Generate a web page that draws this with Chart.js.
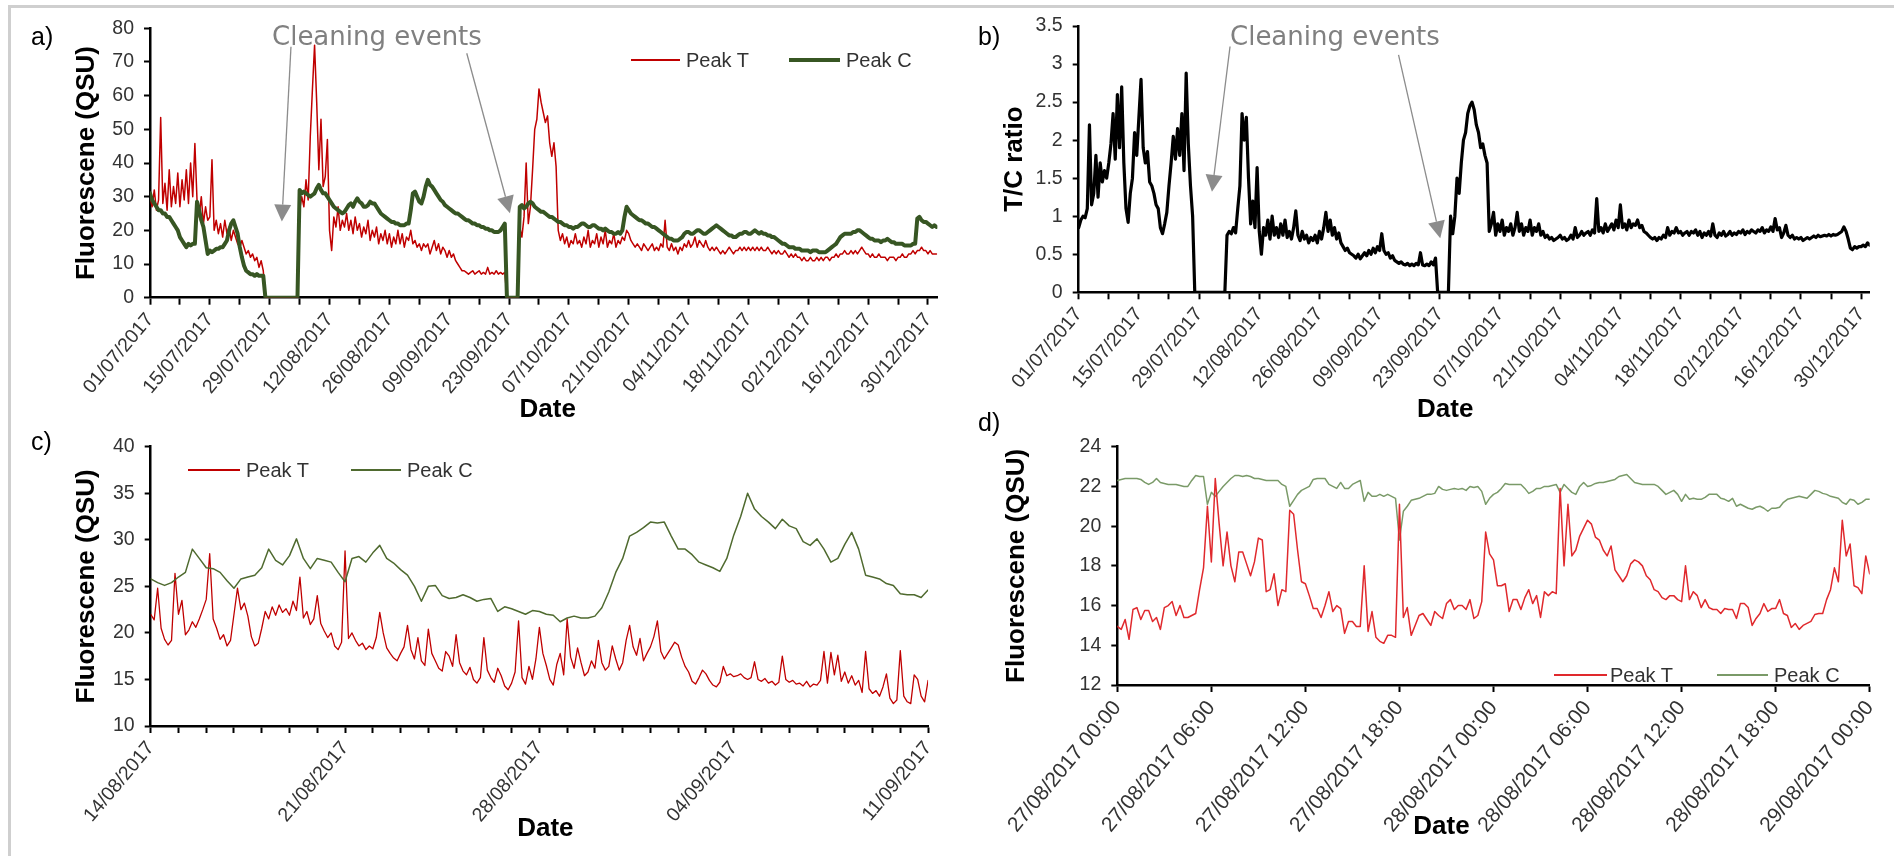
<!DOCTYPE html>
<html>
<head>
<meta charset="utf-8">
<script src="https://cdn.jsdelivr.net/npm/chart.js@4.4.1/dist/chart.umd.min.js"></script>
<style>
html,body{margin:0;padding:0;background:#fff;}
body{width:1894px;height:856px;position:relative;overflow:hidden;font-family:"Liberation Sans",Arial,sans-serif;}
.frame{position:absolute;left:8px;top:5px;width:2000px;height:1000px;border-top:3px solid #cfcfcf;border-left:3px solid #cfcfcf;}
canvas{position:absolute;display:block;}
.lbl{position:absolute;font-size:25px;line-height:26px;color:#000;white-space:nowrap;}
.note{position:absolute;font-family:"DejaVu Sans",sans-serif;font-size:26px;line-height:26px;color:#808080;white-space:nowrap;}
.leg{position:absolute;font-size:20px;line-height:20px;color:#333;white-space:nowrap;}
.sw{position:absolute;}
</style>
</head>
<body>
<div class="frame"></div>
<canvas id="ca" width="950" height="425" style="left:0;top:0"></canvas>
<canvas id="cb" width="944" height="425" style="left:950px;top:0"></canvas>
<canvas id="cc" width="950" height="431" style="left:0;top:425px"></canvas>
<canvas id="cd" width="944" height="431" style="left:950px;top:425px"></canvas>

<div class="lbl" style="left:31px;top:23px">a)</div>
<div class="lbl" style="left:978px;top:23px">b)</div>
<div class="lbl" style="left:31px;top:428px">c)</div>
<div class="lbl" style="left:978px;top:409px">d)</div>

<div class="note" style="left:272px;top:23px">Cleaning events</div>
<div class="note" style="left:1230px;top:23px">Cleaning events</div>

<!-- legends -->
<div class="sw" style="left:631px;top:59px;width:49px;height:1.6px;background:#c00000"></div>
<div class="leg" style="left:686px;top:50px">Peak T</div>
<div class="sw" style="left:789px;top:58px;width:51px;height:4px;background:#375623"></div>
<div class="leg" style="left:846px;top:50px">Peak C</div>

<div class="sw" style="left:188px;top:469px;width:52px;height:1.6px;background:#c00000"></div>
<div class="leg" style="left:246px;top:460px">Peak T</div>
<div class="sw" style="left:351px;top:469px;width:50px;height:1.6px;background:#4f6a2f"></div>
<div class="leg" style="left:407px;top:460px">Peak C</div>

<div class="sw" style="left:1554px;top:674px;width:53px;height:1.6px;background:#e0292d"></div>
<div class="leg" style="left:1610px;top:665px">Peak T</div>
<div class="sw" style="left:1717px;top:674px;width:51px;height:1.6px;background:#7a9a68"></div>
<div class="leg" style="left:1774px;top:665px">Peak C</div>

<script>
// ---------------- DATA ----------------
// Panels a & b: days since 01/07/2017, sampled every half day (0 .. 184)
const A_STEP = 0.5;
const halfYearTicks = ['01/07/2017','15/07/2017','29/07/2017','12/08/2017','26/08/2017','09/09/2017','23/09/2017',
  '07/10/2017','21/10/2017','04/11/2017','18/11/2017','02/12/2017','16/12/2017','30/12/2017'];

const peakT_a = [
 30,27,32,26,29,53.5,28,34,26,38,27,33,28,37,27,35,29,38,28,40,
 30,45.8,29,24,30,22,27,23,24,41,20,23,19,22,18,23,19,21,17,20,
 18,16,15,17,15,13,14,12,13,11,12,9,11,8,0,0,0,0,0,0,
 0,0,0,0,0,0,0,0,0,0,26,30,27,35,29,48,62,75,58,38,
 53,33,36,47,20,14,24,21,27,20,23,21,25,20,23,19,24,20,22,18,
 21,19,23,17,20,18,21,16,19,17,20,16,19,15,18,16,20,16,19,15,
 18,17,20,16,17,15,16,14,16,15,16,13,15,17,14,16,13,15,14,12,
 14,12,13,11,10,9,8,8,7.5,7,7.5,8,7,7.5,8,7,7.5,7,9,7,
 7.5,7,8,7,7.5,7,7.5,0,0,0,0,0,0,21,18,24,40,22,27,38,
 50,53,62,58,55,52,54,46,42,46,39,20,17,19,16,18,15,17,16,19,
 16,17,15,18,16,20,15,17,16,19,15,18,16,20,15,17,16,19,15,17,
 16,18,17,20,19,17,16,15,16,15,14,16,15,14,15,16,14,15,14,16,
 15,23,15,14,16,14,15,13,15,14,16,15,17,15,16,18,15,17,16,15,
 17,15,14,15,14,15,14,13,14,13,14,15,14,13,14,14,15,14,15,14,
 15,14,15,14,15,14,15,14,14,15,14,13,14,13,14,13,13,14,13,12,
 13,12,13,12,12,11,12,11,11,12,11,11,12,11,12,11,12,12,11,12,
 12,13,12,13,13,14,13,13,14,13,14,13,14,15,14,13,13,12,13,12,
 12,13,12,12,12,11,12,12,12,11,12,12,13,12,12,13,13,14,13,14,
 14,15,14,14,13,14,13,13,13
];
const peakC_a = [
 31,29,28,27,26,26,25,25,24,24,23,22,21,20,18,17,16,15,16,15.5,
 16,16,28.5,26,23,21,17,13,14,13.5,14,14.5,14.5,15,15,16,17,20,22,23,
 21,19,15,12,9.5,8,7.5,7,7,6.5,7,6.5,6.5,6.5,0,0,0,0,0,0,
 0,0,0,0,0,0,0,0,0,0,32,31,31.5,31,30.5,30,30.5,31,32.5,33.5,
 32,31,31,30,29,28,27,26.5,26,25.5,25,25.5,26.5,27.5,28,27,28.5,29.5,28.5,28,
 27,27,27.5,28.5,28,28,27,26,25,24.5,24,23.5,23,22.5,22.5,22,22,21.5,21.5,21.5,
 22,22,26,31,31.5,30,28.5,28,30,33,35,33.5,33,32,31,30,29,28.5,27.5,27,
 26.5,26,25.5,25,25,24.5,24,23.5,23,23,22.5,22,22,21.5,21.5,21,21,20.5,20.5,20,
 20,19.5,19.5,19.5,20,21,22,0,0,0,0,0,0,27,27.5,26.5,27,28,28.5,28,
 27,26.5,26,25.5,25.5,25,24.5,24,24,23.5,23,22.5,22.5,22,21.5,21.5,21,21,20.5,21,
 21,21.5,22,22,21.5,21,21,21.5,21.5,21,20.5,20.5,20,20.5,20,19.5,19.5,19,19,19.5,
 19,20,24,27,26,25,24.5,24,23.5,23,23,22.5,22,22,21.5,21,21,20.5,20,19.5,
 19,18.5,18,17.5,17.5,17,17,17,17.5,18,19,19.5,19.5,19,19,19.5,20,20,19.5,19,
 19,19.5,20,20.5,21,21.5,21,20.5,20,19.5,19,18.5,18.5,18,18,18.5,19,19,19.5,19.5,
 19,19,19.5,20,19.5,19,19.5,19,19,18.5,18.5,18,18,17.5,17,16.5,16,16,15.5,15,
 15,15,14.5,14.5,14.5,14,14,14,14,13.5,14,14,14,13.5,13.5,13.5,13.5,14,14.5,15,
 15.5,16,17,18,18.5,19,19,19,19,19.5,19.5,20,20,19.5,19,18.5,18,17.5,17.5,17,
 17,17,16.5,17,17,17.5,17,16.5,16.5,16,16,16,16,15.5,15.5,15.5,15.5,16,16,23.5,
 24,23,22.5,22.5,22,21.5,21,21.5,21
];
const ratioTC_b = [
 0.85,0.95,1.0,0.98,1.1,2.2,1.15,1.3,1.8,1.25,1.7,1.45,1.6,1.5,1.7,1.95,2.35,1.75,2.6,1.9,
 2.7,1.7,1.1,0.92,1.3,1.5,2.1,1.8,2.3,2.8,1.9,1.7,1.85,1.45,1.4,1.3,1.15,1.1,0.85,0.77,
 0.9,1.05,1.4,1.7,2.05,1.75,2.15,1.8,2.35,1.6,2.88,1.95,1.4,1.0,0,0,0,0,0,0,
 0,0,0,0,0,0,0,0,0,0.75,0.8,0.77,0.85,0.78,1.1,1.4,2.35,2.0,2.3,1.5,
 0.9,1.2,0.85,1.64,0.8,0.5,0.85,0.75,0.95,0.7,1.0,0.75,0.85,0.72,0.9,0.75,0.95,0.72,0.8,0.7,
 0.85,1.07,0.75,0.68,0.8,0.7,0.75,0.65,0.72,0.68,0.75,0.65,0.8,0.7,0.85,1.05,0.8,0.95,0.75,0.85,
 0.7,0.78,0.65,0.6,0.55,0.58,0.52,0.5,0.48,0.45,0.5,0.44,0.48,0.52,0.48,0.55,0.5,0.58,0.52,0.6,
 0.55,0.77,0.55,0.5,0.52,0.45,0.48,0.42,0.4,0.38,0.4,0.37,0.36,0.38,0.35,0.37,0.35,0.38,0.36,0.52,
 0.36,0.35,0.37,0.35,0.4,0.36,0.45,0,0,0,0,0,0,1.0,0.77,1.0,1.5,1.3,1.7,2.0,
 2.1,2.35,2.45,2.5,2.4,2.2,2.1,1.9,1.95,1.8,1.7,0.8,0.9,1.05,0.75,0.9,0.8,0.95,0.75,0.85,
 0.8,0.9,0.75,0.85,1.05,0.8,0.9,0.75,0.85,0.8,0.95,0.75,0.85,0.8,0.9,0.75,0.8,0.72,0.75,0.7,
 0.72,0.68,0.7,0.72,0.75,0.7,0.72,0.68,0.7,0.75,0.7,0.85,0.72,0.75,0.8,0.75,0.78,0.8,0.75,0.82,
 0.78,1.23,0.8,0.85,0.78,0.9,0.8,0.85,0.9,0.82,0.95,0.85,1.15,0.85,0.9,0.82,0.95,0.85,0.9,0.88,
 0.95,0.85,0.88,0.8,0.78,0.75,0.72,0.7,0.72,0.68,0.72,0.7,0.75,0.72,0.85,0.75,0.8,0.78,0.85,0.78,
 0.8,0.75,0.78,0.8,0.75,0.8,0.78,0.82,0.75,0.8,0.72,0.78,0.75,0.8,0.74,0.9,0.75,0.72,0.78,0.75,
 0.8,0.74,0.76,0.8,0.75,0.78,0.76,0.8,0.78,0.82,0.76,0.8,0.78,0.82,0.8,0.78,0.82,0.8,0.85,0.78,
 0.82,0.8,0.86,0.8,0.97,0.82,0.85,0.72,0.78,0.88,0.75,0.72,0.75,0.7,0.72,0.7,0.72,0.68,0.7,0.72,
 0.7,0.72,0.74,0.72,0.75,0.73,0.74,0.75,0.74,0.76,0.74,0.76,0.75,0.76,0.78,0.8,0.86,0.8,0.7,0.58,
 0.56,0.6,0.58,0.6,0.6,0.62,0.6,0.65,0.62
];

// Panel c: days since 14/08/2017 (0 .. 28); Peak T every 3 h, Peak C every 6 h
const CT_STEP = 0.125;
const CC_STEP = 0.25;
const monthTicks = ['14/08/2017','21/08/2017','28/08/2017','04/09/2017','11/09/2017'];
const peakT_c = [
 22.0,21.4,24.8,20.5,19.3,18.7,19.2,26.4,
 22.0,23.5,19.8,20.3,21.2,20.6,21.5,22.5,
 23.6,28.5,21.5,20.5,19.3,19.8,18.6,19.2,
 22.0,24.8,22.5,23.2,21.8,19.6,18.6,18.9,
 20.5,22.3,21.5,22.8,21.9,23.0,22.2,22.6,
 21.9,23.4,22.4,26.0,21.6,22.3,20.9,21.5,
 24.0,21.0,20.2,19.5,20.0,18.6,18.2,19.0,
 28.8,19.4,20.0,19.2,18.6,18.9,18.2,18.6,
 18.3,19.5,22.2,20.0,18.4,17.8,17.3,17.0,
 17.8,18.5,20.8,18.2,17.2,19.5,17.0,16.5,
 20.4,17.8,17.0,16.2,15.9,18.0,17.5,16.4,
 19.8,16.8,15.9,15.5,16.3,15.0,14.6,15.2,
 19.5,16.0,15.2,14.7,16.2,15.4,14.3,13.9,
 14.6,15.8,21.3,15.2,14.5,16.4,15.0,17.2,
 20.6,17.8,16.5,15.0,14.4,16.6,17.8,15.5,
 21.5,17.4,16.2,18.4,16.8,15.4,15.8,17.0,
 16.2,19.2,16.8,16.0,16.4,18.6,17.2,16.0,
 16.8,19.2,20.8,18.5,17.6,19.4,17.0,17.8,
 18.5,19.6,21.3,18.0,17.2,17.8,18.4,19.0,
 18.7,17.4,16.4,15.8,14.8,14.5,15.2,16.0,
 15.6,14.9,14.4,14.2,14.7,16.4,15.4,15.6,
 15.3,15.4,15.6,15.2,15.0,15.2,16.9,15.0,
 14.8,15.1,14.6,14.8,14.4,14.7,17.5,15.0,
 14.7,14.9,14.5,14.6,14.3,14.8,14.2,14.5,
 14.4,14.9,18.0,14.6,17.9,15.5,17.6,14.8,
 15.8,14.6,15.4,14.4,14.9,13.6,18.0,14.0,
 13.5,13.8,13.2,14.2,15.6,13.0,12.4,12.8,
 18.1,13.2,12.6,12.4,15.5,15.0,13.2,12.6,
 14.9
];
const peakC_c = [
 25.8,25.4,25.1,25.4,26.0,26.5,29.0,28.0,27.0,26.9,26.5,25.6,24.8,25.8,26.0,26.2,27.0,29.0,27.8,27.3,28.3,30.1,28.0,26.9,28.0,27.8,27.6,26.5,
 25.5,28.0,28.2,27.6,28.6,29.4,28.0,27.5,26.8,26.2,25.0,23.4,25.0,25.1,24.0,23.7,23.8,24.1,23.8,23.4,23.6,23.7,22.3,22.8,22.6,22.3,22.0,22.4,
 22.3,22.0,21.9,21.2,21.6,21.8,21.6,21.6,21.8,22.7,24.4,26.5,28.0,30.4,30.8,31.3,31.9,31.8,31.9,30.4,29.0,29.0,28.4,27.6,27.3,27.0,26.6,28.0,
 30.5,32.5,35.0,33.3,32.5,31.9,31.2,32.2,31.5,31.2,29.8,29.4,30.1,29.0,27.6,28.0,29.5,30.8,29.0,26.2,26.0,25.8,25.3,25.1,24.2,24.1,24.1,23.8,
 24.6
];

// Panel d: hours since 27/08/2017 00:00, every 15 minutes (0 .. 48)
const D_STEP = 0.25;
const dayTicks = ['27/08/2017 00:00','27/08/2017 06:00','27/08/2017 12:00','27/08/2017 18:00',
  '28/08/2017 00:00','28/08/2017 06:00','28/08/2017 12:00','28/08/2017 18:00','29/08/2017 00:00'];
const peakT_d = [
 14.95,14.8,15.3,14.3,15.8,15.9,15.3,15.75,15.75,15.2,15.4,14.8,
 15.9,16.0,16.2,15.5,16.0,15.4,15.4,15.5,15.6,16.8,17.9,21.0,
 18.2,22.4,20.1,18.0,19.7,18.0,17.2,18.7,18.7,18.1,17.5,18.2,
 19.4,19.3,16.7,16.8,17.6,16.0,16.8,16.7,20.8,20.6,18.8,17.2,
 17.1,16.5,15.85,15.85,15.4,16.0,16.7,15.7,16.0,15.85,14.6,15.2,
 15.2,14.95,14.95,18.0,14.7,15.7,14.4,14.2,14.1,14.5,14.5,14.4,
 21.1,15.4,15.9,14.5,15.0,15.5,15.6,15.3,15.0,15.7,15.5,15.35,
 16.1,16.3,15.8,16.0,16.0,15.8,16.3,15.35,15.5,16.2,19.7,18.6,
 18.3,17.0,17.0,17.1,15.7,16.3,16.3,15.8,16.4,16.8,16.1,16.5,
 15.4,16.7,16.5,16.7,16.6,21.9,18.0,21.1,18.5,18.8,19.5,19.9,
 20.3,20.1,19.45,19.3,18.8,18.5,19.0,17.8,17.5,17.2,17.5,18.1,
 18.3,18.2,18.0,17.5,17.3,16.8,16.7,16.4,16.3,16.5,16.5,16.3,
 16.2,18.0,16.3,16.7,16.5,15.9,16.3,15.9,15.8,15.8,15.6,15.85,
 15.8,15.8,15.35,16.1,16.1,15.9,15.0,15.35,15.6,16.1,15.7,15.85,
 15.85,16.3,15.6,15.5,14.9,15.1,14.8,15.0,15.1,15.2,15.55,15.6,
 15.6,16.3,16.8,17.9,17.2,20.3,18.5,19.1,17.0,16.9,16.6,18.5,
 17.6
];
const peakC_d = [
 22.3,22.35,22.4,22.4,22.4,22.4,22.35,22.2,22.1,22.2,22.4,22.2,
 22.15,22.1,22.1,22.1,22.05,22.0,22.0,22.3,22.55,22.5,22.5,21.1,
 21.7,21.5,21.75,22.0,22.2,22.4,22.55,22.55,22.5,22.55,22.5,22.4,
 22.4,22.35,22.3,22.3,22.3,22.3,22.1,22.0,21.0,21.3,21.6,21.8,
 21.9,22.0,22.35,22.4,22.4,22.4,22.1,22.0,21.9,22.2,21.9,21.9,
 22.1,22.2,22.3,21.25,21.7,21.5,21.5,21.6,21.5,21.6,21.5,21.4,
 19.3,20.75,21.0,21.3,21.35,21.4,21.5,21.6,21.6,21.65,22.0,21.85,
 21.8,21.85,21.9,21.85,21.9,21.8,22.0,21.95,22.0,21.75,21.1,21.4,
 21.6,21.7,21.9,22.15,22.1,22.1,22.1,22.1,21.9,21.65,21.75,21.9,
 21.9,22.0,22.0,22.05,22.1,21.7,22.1,21.9,21.7,21.6,22.0,22.2,
 22.0,22.05,22.15,22.2,22.2,22.25,22.3,22.35,22.5,22.55,22.6,22.4,
 22.2,22.15,22.1,22.1,22.1,22.1,22.0,21.8,21.6,21.7,21.8,21.6,
 21.25,21.6,21.35,21.4,21.35,21.35,21.45,21.6,21.6,21.6,21.4,21.35,
 21.25,21.4,21.0,21.1,21.0,20.9,20.85,20.95,21.0,20.9,20.75,20.9,
 20.9,20.95,21.2,21.35,21.4,21.45,21.5,21.45,21.4,21.6,21.8,21.75,
 21.65,21.6,21.5,21.45,21.4,21.2,21.1,21.35,21.3,21.1,21.2,21.35,
 21.35
];

// Annotation arrows "Cleaning events": [fromX, fromY, toX, toY] in data units
const arrows_a = [[32.98, 74.5, 30.84, 22.6], [74.1, 72.6, 84.2, 25.1]];
const arrows_b = [[35.2, 3.23, 31.0, 1.32], [74.4, 3.12, 84.1, 0.71]];

// ---------------- CHARTS ----------------
Chart.defaults.font.family = '"Liberation Sans", Arial, sans-serif';
const titleFont = {size: 26, weight: 'bold'};

const toPoints = (vals, step) => vals.map((v, i) => ({x: i * step, y: v}));

const arrowPlugin = {
  id: 'arrows',
  afterDatasetsDraw(chart, args, opts) {
    const items = opts.items || [];
    if (!items.length) return;
    const {ctx} = chart;
    const xs = chart.scales.x, ys = chart.scales.y;
    ctx.save();
    ctx.strokeStyle = opts.color; ctx.fillStyle = opts.color; ctx.lineWidth = opts.width;
    for (const [a, b, c, d] of items) {
      const X1 = xs.getPixelForValue(a), Y1 = ys.getPixelForValue(b);
      const X2 = xs.getPixelForValue(c), Y2 = ys.getPixelForValue(d);
      const ang = Math.atan2(Y2 - Y1, X2 - X1);
      const L = opts.head, W = opts.head * 0.5;
      const bx = X2 - L * Math.cos(ang), by = Y2 - L * Math.sin(ang);
      ctx.beginPath(); ctx.moveTo(X1, Y1); ctx.lineTo(bx, by); ctx.stroke();
      ctx.beginPath();
      ctx.moveTo(X2, Y2);
      ctx.lineTo(bx - W * Math.sin(ang), by + W * Math.cos(ang));
      ctx.lineTo(bx + W * Math.sin(ang), by - W * Math.cos(ang));
      ctx.closePath(); ctx.fill();
    }
    ctx.restore();
  }
};

// shifts the x-axis title horizontally (the original centres "Date" on the whole chart, not the plot)
const titleShiftPlugin = {
  id: 'titleShift',
  beforeDraw(chart, args, opts) {
    const s = chart.scales.x;
    if (!s || s._shiftWrapped) return;
    const orig = s.drawTitle.bind(s);
    s.drawTitle = function () {
      const ctx = this.ctx;
      ctx.save();
      ctx.translate(opts.dx || 0, 0);
      orig();
      ctx.restore();
    };
    s._shiftWrapped = true;
  }
};

function xAxis(min, max, step, labelFn, height, titlePad, fontSize) {
  return {
    type: 'linear', min, max,
    ticks: {stepSize: step, autoSkip: false, includeBounds: false, maxRotation: 50, minRotation: 50,
            font: {size: fontSize}, color: '#333', padding: 4, callback: (v) => labelFn(v)},
    grid: {drawOnChartArea: false, drawTicks: true, tickLength: 7, tickWidth: 2, tickColor: '#000'},
    border: {display: true, color: '#000', width: 2.5},
    title: {display: true, text: 'Date', font: titleFont, color: '#000', padding: {top: 0, bottom: titlePad}},
    afterFit: (s) => { s.height = height; }
  };
}
function yAxis(min, max, step, text, width, titlePad) {
  return {
    type: 'linear', min, max,
    ticks: {stepSize: step, font: {size: 19.5}, color: '#333', padding: 10,
            callback: (v) => String(Math.round(v * 10) / 10)},
    grid: {drawOnChartArea: false, drawTicks: true, tickLength: 6, tickWidth: 2, tickColor: '#000'},
    border: {display: true, color: '#000', width: 2.5},
    title: {display: true, text, font: titleFont, color: '#000', padding: {top: titlePad, bottom: 0}},
    afterFit: (s) => { s.width = width; }
  };
}
function lineDs(label, vals, step, color, width, order) {
  return {label, data: toPoints(vals, step), borderColor: color, backgroundColor: color,
          borderWidth: width, pointRadius: 0, tension: 0, fill: false, order,
          borderJoinStyle: 'round', borderCapStyle: 'round'};
}
function make(id, datasets, x, y, padding, titleDx, arrowItems) {
  return new Chart(document.getElementById(id), {
    type: 'line',
    data: {datasets},
    options: {
      responsive: false, animation: false, events: [], devicePixelRatio: 1,
      layout: {padding},
      scales: {x, y},
      plugins: {legend: {display: false}, tooltip: {enabled: false},
                titleShift: {dx: titleDx},
                arrows: {items: arrowItems || [], color: '#8c8c8c', width: 1.3, head: 17}}
    },
    plugins: [arrowPlugin, titleShiftPlugin]
  });
}

const halfYearLabel = (v) => (v % 14 === 0 && halfYearTicks[v / 14] !== undefined) ? halfYearTicks[v / 14] : '';
const monthLabel = (v) => (v % 7 === 0 && monthTicks[v / 7] !== undefined) ? monthTicks[v / 7] : '';
const dayLabel = (v) => (v % 6 === 0 && dayTicks[v / 6] !== undefined) ? dayTicks[v / 6] : '';

// a)
make('ca',
  [lineDs('Peak T', peakT_a, A_STEP, '#c00000', 1.5, 2),
   lineDs('Peak C', peakC_a, A_STEP, '#375623', 4, 1)],
  xAxis(0, 184.2, 7, halfYearLabel, 127.3, 0, 19.5),
  yAxis(0, 80, 10, 'Fluorescene (QSU)', 90, 11),
  {left: 60, right: 8, top: 28.3, bottom: 0}, 4, arrows_a);

// b)
make('cb',
  [lineDs('T/C ratio', ratioTC_b, A_STEP, '#000000', 3.2, 1)],
  xAxis(0, 184, 7, halfYearLabel, 132.7, 0, 19.5),
  yAxis(0, 3.5, 0.5, 'T/C ratio', 88.7, 9),
  {left: 40, right: 24.3, top: 26, bottom: 0}, -29, arrows_b);

// c)
make('cc',
  [lineDs('Peak T', peakT_c, CT_STEP, '#c00000', 1.3, 2),
   lineDs('Peak C', peakC_c, CC_STEP, '#4f6a2f', 1.5, 1)],
  xAxis(0, 28, 1, monthLabel, 130, 12, 19.5),
  yAxis(10, 40, 5, 'Fluorescene (QSU)', 90.7, 11),
  {left: 60, right: 8, top: 18.3, bottom: 0}, 6);

// d)
make('cd',
  [lineDs('Peak T', peakT_d, D_STEP, '#e0292d', 1.5, 1),
   lineDs('Peak C', peakC_d, D_STEP, '#7a9a68', 1.5, 2)],
  xAxis(0, 48, 6, dayLabel, 171, 13.5, 21),
  yAxis(12, 24, 2, 'Fluorescene (QSU)', 127.3, 11),
  {left: 40, right: 24.3, top: 15.7, bottom: 0}, -52);
</script>
</body>
</html>
